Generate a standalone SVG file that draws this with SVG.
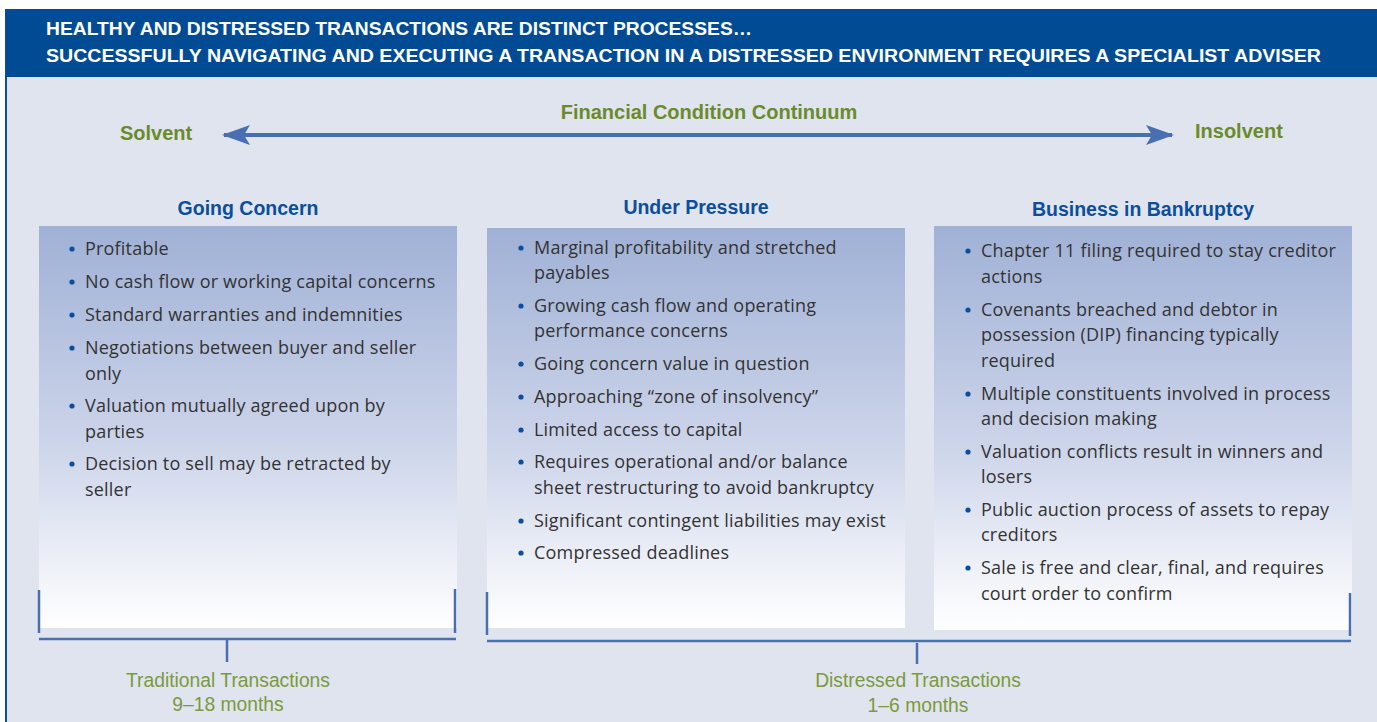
<svg xmlns="http://www.w3.org/2000/svg" width="1377" height="722" viewBox="0 0 1377 722">
<defs>
<linearGradient id="boxgrad" x1="0" y1="0" x2="0" y2="1">
<stop offset="0" stop-color="#A0B1D6"/>
<stop offset="0.55" stop-color="#CDD5EA"/>
<stop offset="1" stop-color="#FFFFFF"/>
</linearGradient>
<marker id="stealth" viewBox="0 0 30 24" refX="26" refY="12" markerWidth="30" markerHeight="24" markerUnits="userSpaceOnUse" orient="auto-start-reverse">
<path d="M0,2 L28,12 L0,22 L6,12 Z" fill="#4A6FB0"/>
</marker>
<style>
.hdr{font-family:"Liberation Sans",Arial,sans-serif;font-weight:bold;font-size:18.5px;fill:#FFFFFF}
.green{font-family:"Liberation Sans",Arial,sans-serif;font-weight:bold;font-size:20px;fill:#6A8B2A}
.title{font-family:"Liberation Sans",Arial,sans-serif;font-weight:bold;font-size:19.5px;fill:#0B4F9C;text-anchor:middle}
.item{font-family:"Open Sans","Liberation Sans",Arial,sans-serif;font-size:18px;letter-spacing:0.2px;fill:#333333}
.dot{fill:#0B4F9C}
.lbl{font-family:"Liberation Sans",Arial,sans-serif;font-size:19.3px;fill:#7A9A3C;text-anchor:middle}
.br{stroke:#4A6FB0;stroke-width:2.5;fill:none}
</style>
</defs>
<rect x="0" y="0" width="1377" height="722" fill="#FFFFFF"/>
<rect x="6" y="9" width="1371" height="713" fill="#E0E4EF"/>
<line x1="6" y1="9" x2="6" y2="722" stroke="#0B4F9C" stroke-width="2"/>
<g id="header">
<rect x="6" y="9" width="1371" height="68" fill="#004B93"/>
<text class="hdr" x="46" y="35" textLength="706" lengthAdjust="spacingAndGlyphs">HEALTHY AND DISTRESSED TRANSACTIONS ARE DISTINCT PROCESSES…</text>
<text class="hdr" x="46" y="62" textLength="1275" lengthAdjust="spacingAndGlyphs">SUCCESSFULLY NAVIGATING AND EXECUTING A TRANSACTION IN A DISTRESSED ENVIRONMENT REQUIRES A SPECIALIST ADVISER</text>
</g>
<g id="continuum">
<text class="green" x="709" y="119" text-anchor="middle">Financial Condition Continuum</text>
<text class="green" x="120" y="140">Solvent</text>
<text class="green" x="1195" y="138">Insolvent</text>
</g>
<g id="going-concern">
<text class="title" x="248" y="215">Going Concern</text>
<rect x="39" y="226" width="418" height="402" fill="url(#boxgrad)"/>
<circle class="dot" cx="72" cy="249" r="2.6"/><text class="item" x="85" y="255">Profitable</text>
<circle class="dot" cx="72" cy="282" r="2.6"/><text class="item" x="85" y="288">No cash flow or working capital concerns</text>
<circle class="dot" cx="72" cy="315" r="2.6"/><text class="item" x="85" y="321">Standard warranties and indemnities</text>
<circle class="dot" cx="72" cy="348" r="2.6"/><text class="item" x="85" y="354">Negotiations between buyer and seller</text>
<text class="item" x="85" y="380">only</text>
<circle class="dot" cx="72" cy="406" r="2.6"/><text class="item" x="85" y="412">Valuation mutually agreed upon by</text>
<text class="item" x="85" y="438">parties</text>
<circle class="dot" cx="72" cy="464" r="2.6"/><text class="item" x="85" y="470">Decision to sell may be retracted by</text>
<text class="item" x="85" y="496">seller</text>
</g>
<g id="under-pressure">
<text class="title" x="696" y="214">Under Pressure</text>
<rect x="487" y="228" width="418" height="400" fill="url(#boxgrad)"/>
<circle class="dot" cx="521" cy="248" r="2.6"/><text class="item" x="534" y="254">Marginal profitability and stretched</text>
<text class="item" x="534" y="279">payables</text>
<circle class="dot" cx="521" cy="306" r="2.6"/><text class="item" x="534" y="312">Growing cash flow and operating</text>
<text class="item" x="534" y="337">performance concerns</text>
<circle class="dot" cx="521" cy="364" r="2.6"/><text class="item" x="534" y="370">Going concern value in question</text>
<circle class="dot" cx="521" cy="397" r="2.6"/><text class="item" x="534" y="403">Approaching “zone of insolvency”</text>
<circle class="dot" cx="521" cy="430" r="2.6"/><text class="item" x="534" y="436">Limited access to capital</text>
<circle class="dot" cx="521" cy="462" r="2.6"/><text class="item" x="534" y="468">Requires operational and/or balance</text>
<text class="item" x="534" y="494">sheet restructuring to avoid bankruptcy</text>
<circle class="dot" cx="521" cy="521" r="2.6"/><text class="item" x="534" y="527">Significant contingent liabilities may exist</text>
<circle class="dot" cx="521" cy="553" r="2.6"/><text class="item" x="534" y="559">Compressed deadlines</text>
</g>
<g id="business-in-bankruptcy">
<text class="title" x="1143" y="216">Business in Bankruptcy</text>
<rect x="934" y="226" width="418" height="404" fill="url(#boxgrad)"/>
<circle class="dot" cx="968" cy="251" r="2.6"/><text class="item" x="981" y="257">Chapter 11 filing required to stay creditor</text>
<text class="item" x="981" y="283">actions</text>
<circle class="dot" cx="968" cy="310" r="2.6"/><text class="item" x="981" y="316">Covenants breached and debtor in</text>
<text class="item" x="981" y="341">possession (DIP) financing typically</text>
<text class="item" x="981" y="367">required</text>
<circle class="dot" cx="968" cy="394" r="2.6"/><text class="item" x="981" y="400">Multiple constituents involved in process</text>
<text class="item" x="981" y="425">and decision making</text>
<circle class="dot" cx="968" cy="452" r="2.6"/><text class="item" x="981" y="458">Valuation conflicts result in winners and</text>
<text class="item" x="981" y="483">losers</text>
<circle class="dot" cx="968" cy="510" r="2.6"/><text class="item" x="981" y="516">Public auction process of assets to repay</text>
<text class="item" x="981" y="541">creditors</text>
<circle class="dot" cx="968" cy="568" r="2.6"/><text class="item" x="981" y="574">Sale is free and clear, final, and requires</text>
<text class="item" x="981" y="600">court order to confirm</text>
</g>
<g id="connectors">
<line x1="224" y1="135" x2="1172" y2="135" stroke="#4A6FB0" stroke-width="4" marker-start="url(#stealth)" marker-end="url(#stealth)"/>
<path class="br" d="M39,590 V633 M455,589 V633 M39,639 H456 M227,640 V662"/>
<path class="br" d="M487,592 V635 M1350,593 V636 M487,641 H1351 M917,643 V664"/>
</g>
<g id="traditional-label">
<text class="lbl" x="228" y="687">Traditional Transactions</text>
<text class="lbl" x="228" y="711">9–18 months</text>
</g>
<g id="distressed-label">
<text class="lbl" x="918" y="687">Distressed Transactions</text>
<text class="lbl" x="918" y="712">1–6 months</text>
</g>
</svg>
